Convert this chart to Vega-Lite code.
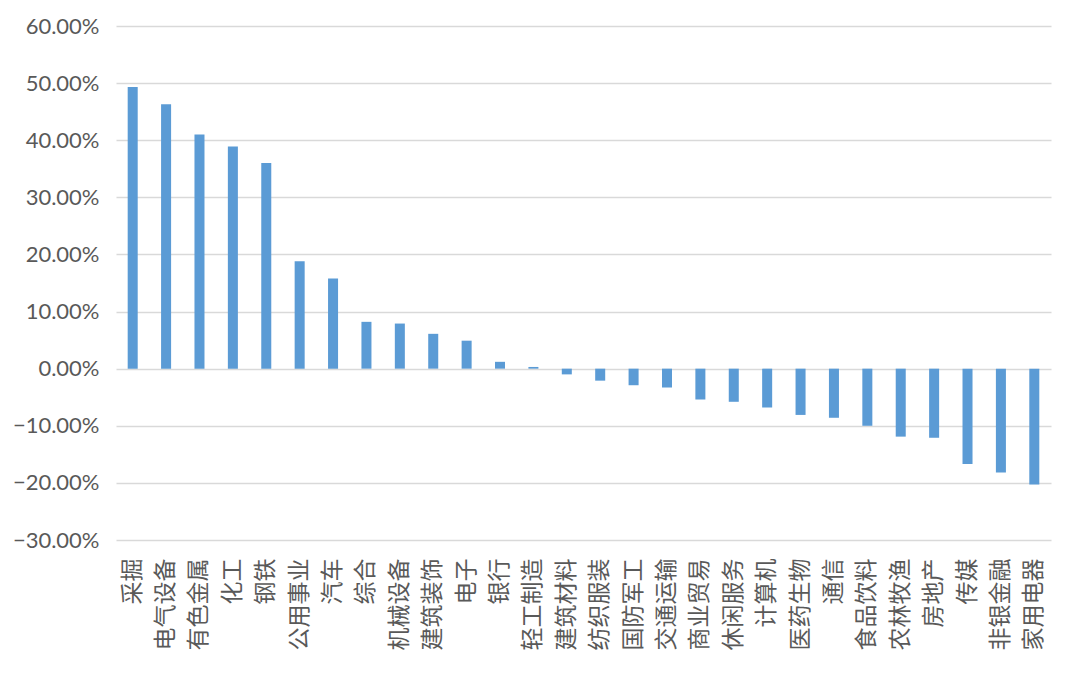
{
  "$schema": "https://vega.github.io/schema/vega-lite/v6.json",
  "autosize": "none",
  "width": 935,
  "height": 514,
  "padding": {"left": 116, "top": 26, "right": 23, "bottom": 139},
  "background": "white",
  "config": {"view": {"stroke": null}},
  "data": {
    "values": [
      {"industry": "采掘", "value": 0.493},
      {"industry": "电气设备", "value": 0.463},
      {"industry": "有色金属", "value": 0.410},
      {"industry": "化工", "value": 0.389},
      {"industry": "钢铁", "value": 0.360},
      {"industry": "公用事业", "value": 0.188},
      {"industry": "汽车", "value": 0.158},
      {"industry": "综合", "value": 0.082},
      {"industry": "机械设备", "value": 0.079},
      {"industry": "建筑装饰", "value": 0.061},
      {"industry": "电子", "value": 0.049},
      {"industry": "银行", "value": 0.012},
      {"industry": "轻工制造", "value": 0.003},
      {"industry": "建筑材料", "value": -0.010},
      {"industry": "纺织服装", "value": -0.021},
      {"industry": "国防军工", "value": -0.029},
      {"industry": "交通运输", "value": -0.033},
      {"industry": "商业贸易", "value": -0.054},
      {"industry": "休闲服务", "value": -0.058},
      {"industry": "计算机", "value": -0.068},
      {"industry": "医药生物", "value": -0.081},
      {"industry": "通信", "value": -0.086},
      {"industry": "食品饮料", "value": -0.100},
      {"industry": "农林牧渔", "value": -0.119},
      {"industry": "房地产", "value": -0.121},
      {"industry": "传媒", "value": -0.167},
      {"industry": "非银金融", "value": -0.182},
      {"industry": "家用电器", "value": -0.203}
    ]
  },
  "mark": {"type": "bar", "color": "#5B9BD5"},
  "encoding": {
    "x": {
      "field": "industry",
      "type": "nominal",
      "sort": null,
      "scale": {"paddingInner": 0.7, "paddingOuter": 0.35},
      "axis": {
        "title": null,
        "domain": false,
        "ticks": false,
        "labelAngle": -90,
        "labelAlign": "right",
        "labelBaseline": "middle",
        "labelPadding": 18,
        "labelFont": "Noto Sans CJK SC",
        "labelFontSize": 23,
        "labelColor": "#595959",
        "labelOverlap": false
      }
    },
    "y": {
      "field": "value",
      "type": "quantitative",
      "scale": {"domain": [-0.3, 0.6], "nice": false, "zero": false},
      "axis": {
        "title": null,
        "format": ".2%",
        "values": [-0.3, -0.2, -0.1, 0, 0.1, 0.2, 0.3, 0.4, 0.5, 0.6],
        "domain": false,
        "ticks": false,
        "grid": true,
        "gridColor": "#d9d9d9",
        "gridWidth": 1.5,
        "labelPadding": 17,
        "labelFont": "Lato",
        "labelFontSize": 22,
        "labelColor": "#595959",
        "labelOverlap": false
      }
    }
  }
}
